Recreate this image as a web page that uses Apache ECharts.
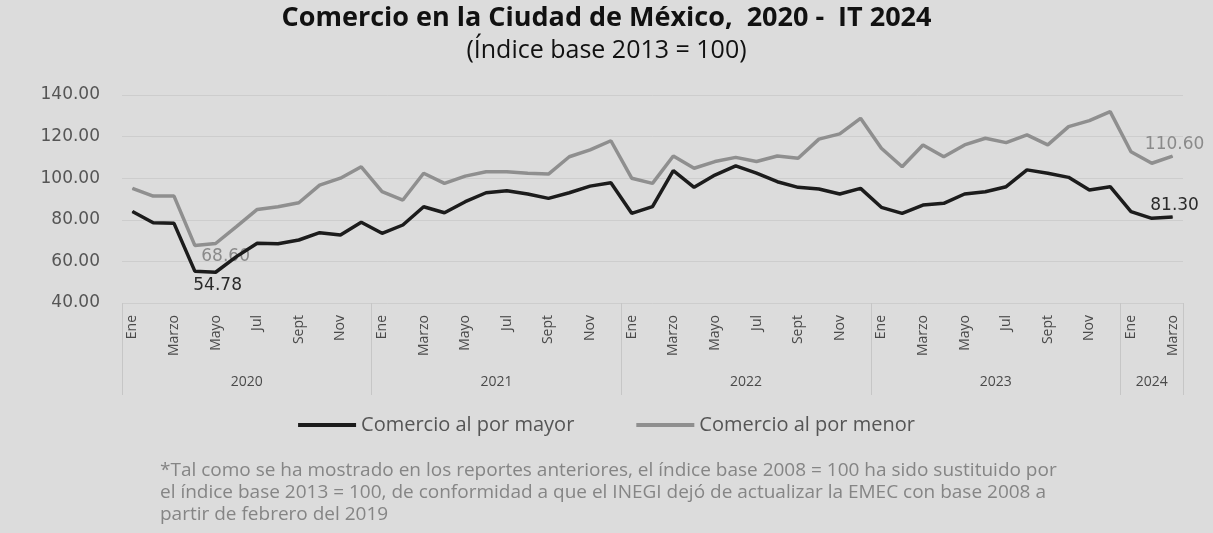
<!DOCTYPE html>
<html>
<head>
<meta charset="utf-8">
<script src="https://cdn.jsdelivr.net/npm/echarts@6/dist/echarts.min.js"></script>
<style>
  html, body { margin: 0; padding: 0; background: #dcdcdc; }
  #chart { width: 1213px; height: 533px; }
</style>
</head>
<body>
<div id="chart"></div>
<script>
// Monthly labels, Jan 2020 – Mar 2024
const monthNames = ['Ene', 'Feb', 'Marzo', 'Abr', 'Mayo', 'Jun', 'Jul', 'Ago', 'Sept', 'Oct', 'Nov', 'Dic'];
const years = ['2020', '2021', '2022', '2023', '2024'];
const monthsPerYear = [12, 12, 12, 12, 3];

// Comercio al por mayor (índice base 2013 = 100)
const mayor = [
  84.0, 78.6, 78.3, 55.3, 54.78, 62.3, 68.7, 68.5, 70.3, 73.8, 72.7, 78.8,
  73.5, 77.5, 86.3, 83.4, 88.7, 93.0, 94.0, 92.4, 90.3, 93.0, 96.2, 97.8,
  83.1, 86.3, 103.6, 95.6, 101.5, 105.9, 102.4, 98.3, 95.6, 94.8, 92.4, 95.1,
  86.0, 83.1, 87.1, 87.9, 92.4, 93.5, 95.9, 104.0, 102.4, 100.4, 94.3, 95.9,
  83.9, 80.7, 81.30
];

// Comercio al por menor (índice base 2013 = 100)
const menor = [
  95.1, 91.4, 91.4, 67.7, 68.60, 76.7, 85.0, 86.3, 88.2, 96.7, 100.0, 105.5,
  93.5, 89.5, 102.4, 97.5, 101.0, 103.1, 103.1, 102.4, 102.0, 110.3, 113.6, 118.0,
  100.0, 97.5, 110.7, 104.8, 108.0, 110.0, 108.0, 110.7, 109.6, 118.8, 121.3, 128.8,
  114.4, 105.5, 116.0, 110.3, 116.0, 119.2, 117.1, 120.8, 116.0, 124.8, 127.7, 132.0,
  112.7, 107.2, 110.60
];

// Points that carry a value label, and where the label sits
const labelledMayor = { 4: 'bottom', 50: 'top' };
const labelledMenor = { 4: 'bottom', 50: 'top' };

const categories = [];
years.forEach((y, yi) => {
  for (let m = 0; m < monthsPerYear[yi]; m++) categories.push(monthNames[m]);
});

// Year group boundaries and centres on a continuous index scale
const boundaries = [-0.5];
const centres = [];
let start = 0;
monthsPerYear.forEach(n => {
  centres.push(start + (n - 1) / 2);
  start += n;
  boundaries.push(start - 0.5);
});

function withLabels(values, labelled, color) {
  return values.map((v, i) => {
    if (labelled[i] === undefined) return v;
    const pos = labelled[i];
    return {
      value: v,
      label: {
        show: true,
        position: pos,
        distance: pos === 'top' ? 3 : 4,
        offset: pos === 'bottom' && color !== '#2a2a2a' ? [10, 0] : [2, 0],
        color: color,
        fontFamily: 'DejaVu Sans',
        fontSize: 17,
        formatter: p => p.value.toFixed(2)
      }
    };
  });
}

const chart = echarts.init(document.getElementById('chart'));
chart.setOption({
  backgroundColor: '#dcdcdc',
  animation: false,
  title: [
    {
      text: 'Comercio en la Ciudad de México,  2020 -  IT 2024',
      left: 'center', top: 0,
      textStyle: { fontFamily: 'Open Sans', fontSize: 27, fontWeight: 'bold', color: '#111' }
    },
    {
      text: '(Índice base 2013 = 100)',
      left: 'center', top: 33,
      textStyle: { fontFamily: 'Open Sans', fontSize: 25, fontWeight: 'normal', color: '#111' }
    },
    {
      text: '*Tal como se ha mostrado en los reportes anteriores, el índice base 2008 = 100 ha sido sustituido por\n' +
            'el índice base 2013 = 100, de conformidad a que el INEGI dejó de actualizar la EMEC con base 2008 a\n' +
            'partir de febrero del 2019',
      left: 155, top: 455,
      textStyle: { fontFamily: 'Open Sans', fontSize: 19, fontWeight: 'normal', color: '#858585', lineHeight: 22 }
    }
  ],
  legend: {
    top: 410, left: 'center',
    itemWidth: 58, itemHeight: 4, itemGap: 62,
    icon: 'rect',
    textStyle: { fontFamily: 'Open Sans', fontSize: 20, color: '#555' },
    data: ['Comercio al por mayor', 'Comercio al por menor']
  },
  grid: { left: 122, right: 30, top: 95, bottom: 230, containLabel: false },
  xAxis: [
    {
      type: 'category',
      data: categories,
      boundaryGap: true,
      axisLine: { show: false },
      axisTick: { show: false },
      axisLabel: {
        interval: 1, rotate: 90, margin: 12,
        fontFamily: 'Open Sans', fontSize: 14, color: '#4a4a4a'
      },
      splitLine: { show: false }
    },
    {
      type: 'value',
      position: 'bottom',
      min: -0.5, max: categories.length - 0.5,
      axisLine: { show: false },
      axisTick: {
        show: true, length: 92, inside: false,
        customValues: boundaries,
        lineStyle: { color: '#c6c6c6', width: 1 }
      },
      axisLabel: {
        show: true, margin: 72,
        customValues: centres,
        fontFamily: 'Open Sans', fontSize: 14, color: '#4a4a4a',
        formatter: v => years[centres.indexOf(v)] || ''
      },
      splitLine: { show: false }
    }
  ],
  yAxis: {
    type: 'value',
    min: 40, max: 140, interval: 20,
    axisLine: { show: false },
    axisTick: { show: false },
    axisLabel: {
      margin: 22,
      fontFamily: 'DejaVu Sans', fontSize: 17, color: '#555',
      formatter: v => v.toFixed(2)
    },
    splitLine: { show: true, lineStyle: { color: '#cdcdcd', width: 1 } }
  },
  series: [
    {
      name: 'Comercio al por mayor',
      type: 'line',
      xAxisIndex: 0,
      data: withLabels(mayor, labelledMayor, '#2a2a2a'),
      symbol: 'circle',
      symbolSize: 1,
      showSymbol: true,
      lineStyle: { color: '#1c1c1c', width: 3.5 },
      itemStyle: { color: '#1c1c1c' },
      z: 3
    },
    {
      name: 'Comercio al por menor',
      type: 'line',
      xAxisIndex: 0,
      data: withLabels(menor, labelledMenor, '#8a8a8a'),
      symbol: 'circle',
      symbolSize: 1,
      showSymbol: true,
      lineStyle: { color: '#8f8f8f', width: 3.5 },
      itemStyle: { color: '#8f8f8f' },
      z: 2
    }
  ]
});
</script>
</body>
</html>
